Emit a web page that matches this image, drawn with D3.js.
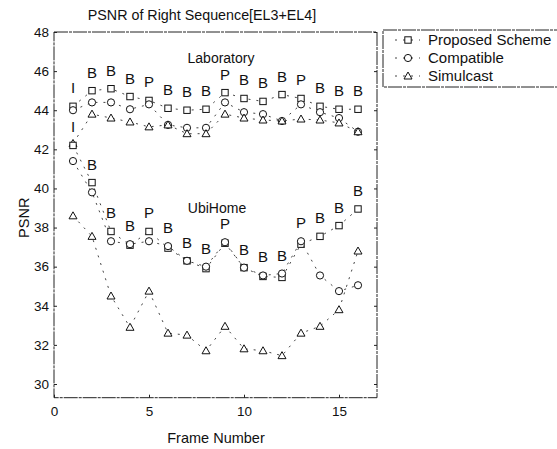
<!DOCTYPE html>
<html>
<head>
<meta charset="utf-8">
<script src="https://cdn.jsdelivr.net/npm/d3@7"></script>
<style>
  body { margin: 0; background: #fff; }
  text { font-family: "Liberation Sans", Arial, sans-serif; fill: #111; }
</style>
</head>
<body>
<div id="chart"></div>
<script>
// frame numbers
const frames = [1, 2, 3, 4, 5, 6, 7, 8, 9, 10, 11, 12, 13, 14, 15, 16];

// Laboratory sequence
const labProposed   = [44.2, 45.0, 45.1, 44.7, 44.5, 44.1, 44.0, 44.05, 44.9, 44.6, 44.45, 44.8, 44.6, 44.2, 44.05, 44.05];
const labCompatible = [44.0, 44.4, 44.4, 44.05, 44.3, 43.25, 43.1, 43.1, 44.4, 43.9, 43.8, 43.45, 44.3, 43.9, 43.6, 42.9];
const labSimulcast  = [42.3, 43.8, 43.6, 43.4, 43.15, 43.25, 42.8, 42.8, 43.8, 43.6, 43.5, 43.45, 43.55, 43.5, 43.35, 42.9];

// UbiHome sequence
const ubiProposed   = [42.2, 40.3, 37.8, 37.1, 37.8, 36.95, 36.3, 35.9, 37.2, 35.95, 35.5, 35.45, 37.15, 37.55, 38.1, 38.95];
const ubiCompatible = [41.4, 39.8, 37.3, 37.15, 37.3, 37.05, 36.3, 36.0, 37.25, 35.95, 35.55, 35.65, 37.3, 35.55, 34.75, 35.05];
const ubiSimulcast  = [38.6, 37.55, 34.5, 32.9, 34.75, 32.6, 32.5, 31.7, 32.95, 31.8, 31.7, 31.45, 32.6, 32.95, 33.8, 36.8];

// frame type labels
const frameTypes = ["I", "B", "B", "B", "P", "B", "B", "B", "P", "B", "B", "B", "P", "B", "B", "B"];

const xTicks = [0, 5, 10, 15];
const yTicks = [30, 32, 34, 36, 38, 40, 42, 44, 46, 48];

const legendNames = ["Proposed Scheme", "Compatible", "Simulcast"];
const shapes = ["square", "circle", "triangle"];

const w = 557, h = 449;
const svg = d3.select("#chart").append("svg")
  .attr("width", w).attr("height", h);

const x = d3.scaleLinear().domain([0, 17]).range([54, 377]);
const y = d3.scaleLinear().domain([30, 48]).range([384, 32]);
const yBottom = y(29.3);

// frame box
svg.append("rect")
  .attr("x", x(0)).attr("y", y(48))
  .attr("width", x(17) - x(0)).attr("height", yBottom - y(48))
  .attr("fill", "none").attr("stroke", "#222").attr("stroke-width", 1)
  .attr("stroke-dasharray", "14,1,3,1");

// axes
svg.append("g")
  .attr("transform", `translate(0,${yBottom})`)
  .call(d3.axisBottom(x).tickValues(xTicks).tickSize(-3).tickPadding(9))
  .call(g => g.select(".domain").remove())
  .selectAll("text").style("font-size", "13.5px");

svg.append("g")
  .attr("transform", `translate(${x(0)},0)`)
  .call(d3.axisLeft(y).tickValues(yTicks).tickSize(-3).tickPadding(5))
  .call(g => g.select(".domain").remove())
  .selectAll("text").style("font-size", "13.5px");

// right side ticks
svg.append("g")
  .attr("transform", `translate(${x(17)},0)`)
  .call(d3.axisRight(y).tickValues(yTicks).tickSize(-3).tickFormat(""))
  .call(g => g.select(".domain").remove());

svg.selectAll(".tick line").attr("stroke", "#222");

// titles
svg.append("text")
  .attr("x", 202).attr("y", 20)
  .attr("text-anchor", "middle").style("font-size", "14.3px")
  .text("PSNR of Right Sequence[EL3+EL4]");

svg.append("text")
  .attr("x", 216).attr("y", 443)
  .attr("text-anchor", "middle").style("font-size", "14.5px")
  .text("Frame Number");

svg.append("text")
  .attr("transform", `translate(29,${y(38.5)}) rotate(-90)`)
  .attr("text-anchor", "middle").style("font-size", "14.5px")
  .text("PSNR");

// marker drawing
function drawMarker(g, shape, cx, cy) {
  if (shape === "square") {
    g.append("rect").attr("x", cx - 3.2).attr("y", cy - 3.2)
      .attr("width", 6.4).attr("height", 6.4);
  } else if (shape === "circle") {
    g.append("circle").attr("cx", cx).attr("cy", cy).attr("r", 3.6);
  } else {
    g.append("path")
      .attr("d", `M${cx},${cy - 4}L${cx + 4},${cy + 3}L${cx - 4},${cy + 3}Z`);
  }
}

const line = d3.line()
  .x((d, i) => x(frames[i]))
  .y(d => y(d));

const series = [
  [labProposed, 0], [labCompatible, 1], [labSimulcast, 2],
  [ubiProposed, 0], [ubiCompatible, 1], [ubiSimulcast, 2]
];

series.forEach(function(s) {
  const values = s[0];
  const shape = shapes[s[1]];
  svg.append("path")
    .datum(values)
    .attr("d", line)
    .attr("fill", "none")
    .attr("stroke", "#444")
    .attr("stroke-width", 1)
    .attr("stroke-dasharray", "2,6");
  const g = svg.append("g")
    .attr("fill", "white").attr("stroke", "#111").attr("stroke-width", 1);
  values.forEach(function(v, i) {
    drawMarker(g, shape, x(frames[i]), y(v));
  });
});

// frame type letters above the top curve of each group
frameTypes.forEach(function(t, i) {
  const labTop = Math.max(labProposed[i], labCompatible[i]);
  svg.append("text")
    .attr("x", x(frames[i])).attr("y", y(labTop) - 13)
    .attr("text-anchor", "middle").style("font-size", "15px")
    .text(t);
  const ubiTop = Math.max(ubiProposed[i], ubiCompatible[i]);
  svg.append("text")
    .attr("x", x(frames[i])).attr("y", y(ubiTop) - 13)
    .attr("text-anchor", "middle").style("font-size", "15px")
    .text(t);
});

svg.append("text")
  .attr("x", 221).attr("y", 63)
  .attr("text-anchor", "middle").style("font-size", "14px")
  .text("Laboratory");

svg.append("text")
  .attr("x", 217).attr("y", 213)
  .attr("text-anchor", "middle").style("font-size", "14px")
  .text("UbiHome");

// legend
const lg = svg.append("g").attr("transform", "translate(383,30)");
lg.append("rect")
  .attr("x", 0).attr("y", 0).attr("width", 190).attr("height", 57)
  .attr("fill", "white").attr("stroke", "#222").attr("stroke-width", 1)
  .attr("stroke-dasharray", "14,1,3,1");

legendNames.forEach(function(name, i) {
  const ly = 10 + i * 18;
  lg.append("line")
    .attr("x1", 12).attr("x2", 37).attr("y1", ly).attr("y2", ly)
    .attr("stroke", "#444").attr("stroke-dasharray", "2,6");
  const g = lg.append("g")
    .attr("fill", "white").attr("stroke", "#111").attr("stroke-width", 1);
  drawMarker(g, shapes[i], 25, ly);
  lg.append("text")
    .attr("x", 45).attr("y", ly + 5)
    .style("font-size", "15px")
    .text(name);
});
</script>
</body>
</html>
